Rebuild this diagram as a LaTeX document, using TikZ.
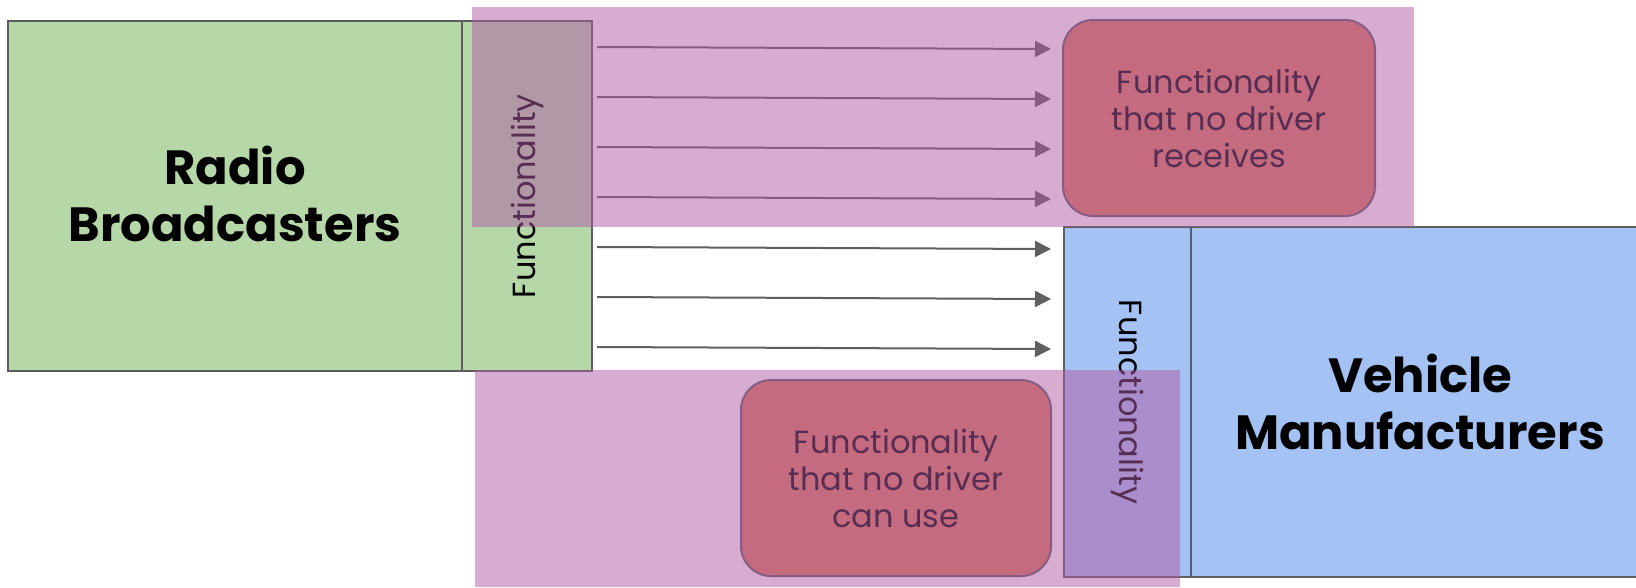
\documentclass[tikz,border=0pt]{standalone}
\usepackage{fontspec}
\setmainfont{Poppins}
\usetikzlibrary{arrows.meta}
\definecolor{gfill}{HTML}{B6D7A8}
\definecolor{bfill}{HTML}{A4C2F4}
\definecolor{edge}{HTML}{5F5F5F}
\definecolor{ovl}{RGB}{176,91,165}
\definecolor{rfill}{RGB}{220,125,91}
\tikzset{
  box/.style={draw=edge, line width=2pt, inner sep=0pt, outer sep=0pt, anchor=north west},
  biglabel/.style={font=\bfseries\fontsize{48}{57}\selectfont, align=center, text=black},
  striplabel/.style={font=\fontsize{32}{37}\selectfont, text=black},
  roundbox/.style={draw=edge, line width=2pt, fill=rfill, rounded corners=30pt, inner sep=0pt, outer sep=0pt, anchor=north west, align=center, font=\fontsize{32}{37}\selectfont, text=black},
  overlay/.style={fill=ovl, fill opacity=0.5, draw=none, inner sep=0pt, outer sep=0pt, anchor=north west},
  arr/.style={draw=edge, line width=2pt, -{Triangle[length=16pt,width=16pt]}}
}
\begin{document}
\begin{tikzpicture}[x=1pt,y=-1pt]
\useasboundingbox[fill=white] (0,0) rectangle (1636,587);
% Radio broadcasters
\node[box, fill=gfill, minimum width=454pt, minimum height=350pt] (rb) at (8,21) {};
\node[box, fill=gfill, minimum width=130pt, minimum height=350pt] (gstrip) at (462,21) {};
\node[biglabel] (rbl) at ([yshift=2pt]rb.center) {Radio\\Broadcasters};
\node[striplabel, rotate=90] (gsl) at (gstrip.center) {Functionality};
% Vehicle manufacturers
\node[box, fill=bfill, minimum width=127pt, minimum height=350pt] (vstrip) at (1064,227) {};
\node[box, fill=bfill, minimum width=450pt, minimum height=350pt] (vm) at (1191,227) {};
\node[biglabel] (vml) at ([xshift=4pt]vm.center) {Vehicle\\Manufacturers};
\node[striplabel, rotate=-90] (vsl) at (vstrip.center) {Functionality};
% rounded boxes
\node[roundbox, minimum width=312pt, minimum height=196pt] (nr) at (1063,20) {Functionality\\that no driver\\receives};
\node[roundbox, minimum width=310pt, minimum height=196pt] (nu) at (741,380) {Functionality\\that no driver\\can use};
% arrows
\foreach \y [count=\i] in {47,97,147,197,247,297,347} {
  \coordinate (a\i) at (597,\y);
  \coordinate (b\i) at (1051,\y+2);
  \draw[arr] (a\i) -- (b\i);
}
% overlays
\node[overlay, minimum width=942pt, minimum height=220pt] (ovtop) at (472,7) {};
\node[overlay, minimum width=705pt, minimum height=217pt] (ovbot) at (475,370) {};
\end{tikzpicture}
\end{document}
